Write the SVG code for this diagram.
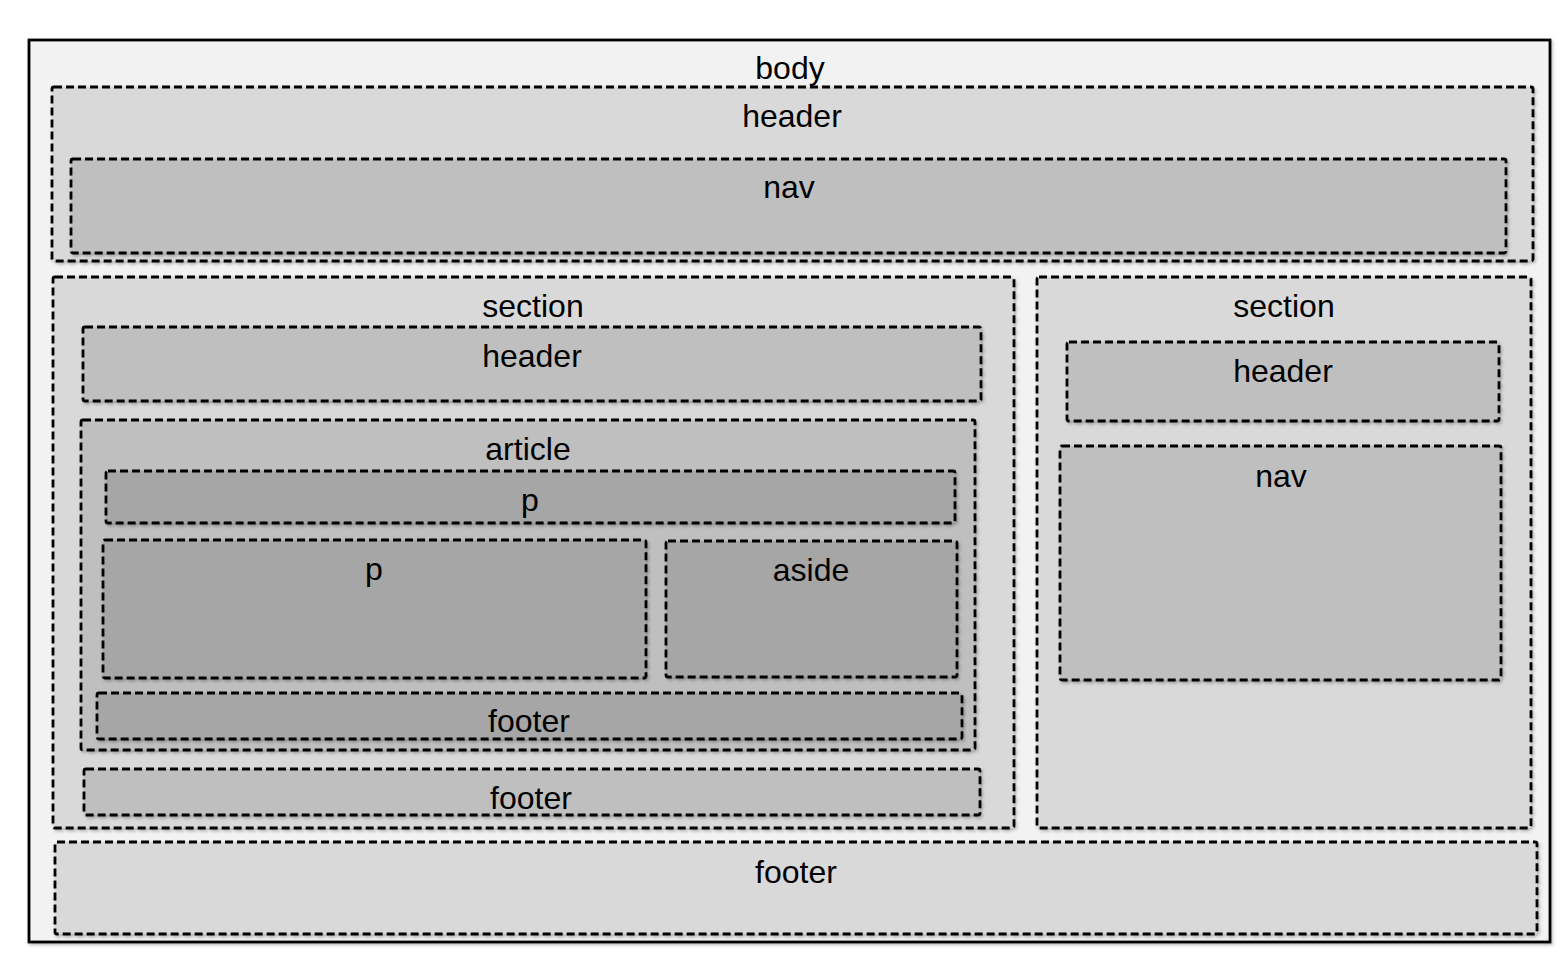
<svg xmlns="http://www.w3.org/2000/svg" width="1567" height="971" viewBox="0 0 1567 971">
<style>
  .box { stroke: #000; stroke-width: 2.8; stroke-dasharray: 8 4; filter: url(#sh); }
  .l1 { fill: #d9d9d9; }
  .l2 { fill: #bfbfbf; }
  .l3 { fill: #a6a6a6; }
  text { font-family: "Liberation Sans", Arial, sans-serif; font-size: 32px; fill: #000; text-anchor: middle; }
</style>
<defs>
  <filter id="sh" x="-5%" y="-5%" width="110%" height="120%">
    <feDropShadow dx="1.5" dy="2" stdDeviation="1.5" flood-color="#000" flood-opacity="0.25"/>
  </filter>
</defs>
<rect width="1567" height="971" fill="#ffffff"/>
<g id="body">
  <rect x="29" y="40" width="1521" height="902" fill="#f2f2f2" stroke="#000" stroke-width="2.8" filter="url(#sh)"/>
  <text x="790" y="79">body</text>
</g>
<g id="header">
  <rect class="box l1" x="52" y="87" width="1481" height="174" rx="2"/>
  <text x="792" y="127">header</text>
</g>
<g id="nav">
  <rect class="box l2" x="71" y="159" width="1435" height="94" rx="2"/>
  <text x="789" y="198">nav</text>
</g>
<g id="section-left">
  <rect class="box l1" x="53" y="277" width="961" height="551" rx="2"/>
  <text x="533" y="317">section</text>
</g>
<g id="section-left-header">
  <rect class="box l2" x="83" y="327" width="898" height="74" rx="2"/>
  <text x="532" y="367">header</text>
</g>
<g id="article">
  <rect class="box l2" x="81" y="420" width="894" height="330" rx="2"/>
  <text x="528" y="460">article</text>
</g>
<g id="p-top">
  <rect class="box l3" x="106" y="471" width="849" height="52" rx="2"/>
  <text x="530" y="511">p</text>
</g>
<g id="p-main">
  <rect class="box l3" x="103" y="540" width="543" height="138" rx="2"/>
  <text x="374" y="580">p</text>
</g>
<g id="aside">
  <rect class="box l3" x="666" y="541" width="291" height="136" rx="2"/>
  <text x="811" y="581">aside</text>
</g>
<g id="article-footer">
  <rect class="box l3" x="97" y="693" width="865" height="46" rx="2"/>
  <text x="529" y="732">footer</text>
</g>
<g id="section-left-footer">
  <rect class="box l2" x="84" y="769" width="896" height="46" rx="2"/>
  <text x="531" y="809">footer</text>
</g>
<g id="section-right">
  <rect class="box l1" x="1037" y="277" width="494" height="551" rx="2"/>
  <text x="1284" y="317">section</text>
</g>
<g id="section-right-header">
  <rect class="box l2" x="1067" y="342" width="432" height="79" rx="2"/>
  <text x="1283" y="382">header</text>
</g>
<g id="section-right-nav">
  <rect class="box l2" x="1060" y="446" width="441" height="234" rx="2"/>
  <text x="1281" y="487">nav</text>
</g>
<g id="footer">
  <rect class="box l1" x="55" y="842" width="1482" height="92" rx="2"/>
  <text x="796" y="883">footer</text>
</g>
<g id="connectors"></g>
</svg>
